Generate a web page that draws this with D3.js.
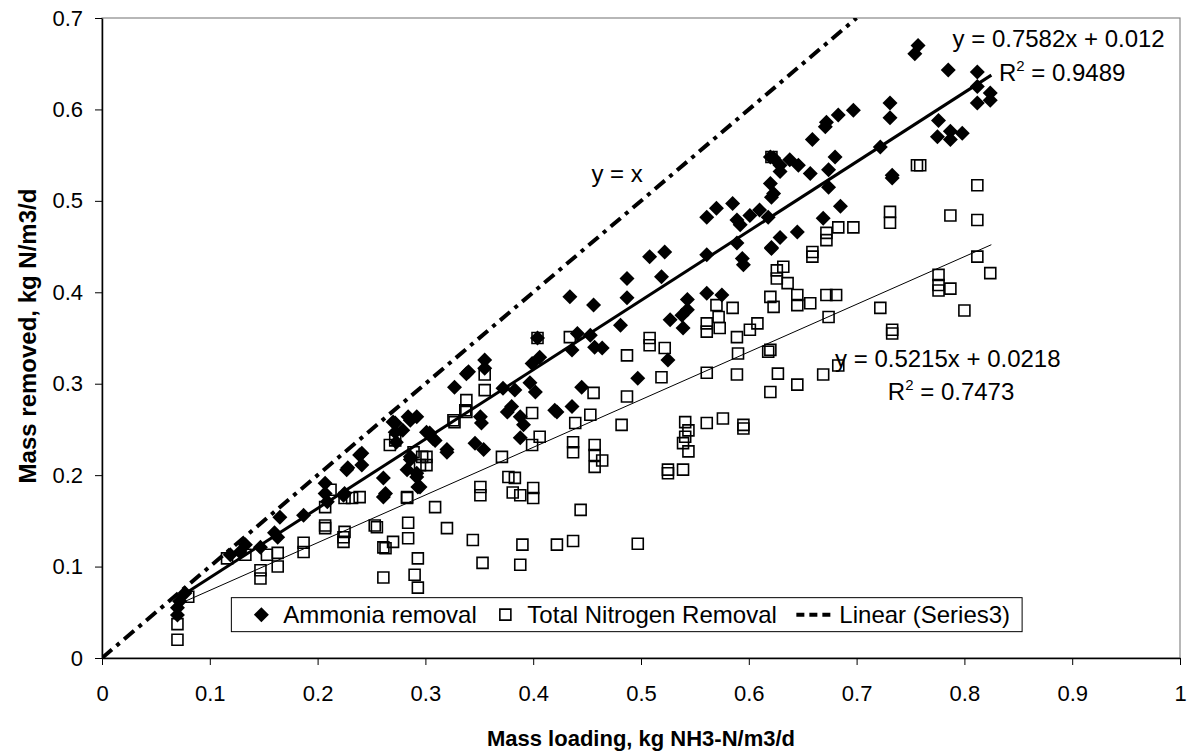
<!DOCTYPE html>
<html>
<head>
<meta charset="utf-8">
<script src="https://cdn.jsdelivr.net/npm/d3@7"></script>
<style>
  body { margin: 0; background: #fff; }
  text { font-family: "Liberation Sans", Arial, sans-serif; }
</style>
</head>
<body>
<div id="chart"><svg></svg></div>
<script>
// ammonia removal (filled diamonds), [loading, removed]
const ammonia = [
  [0.070,0.047],[0.070,0.055],[0.072,0.062],[0.077,0.071],
  [0.119,0.113],[0.128,0.116],[0.133,0.124],[0.147,0.121],[0.160,0.137],[0.163,0.132],[0.165,0.154],[0.187,0.156],
  [0.207,0.191],[0.209,0.171],[0.207,0.180],[0.224,0.178],[0.225,0.180],[0.227,0.206],[0.228,0.208],[0.239,0.222],[0.241,0.211],[0.241,0.224],
  [0.261,0.197],[0.261,0.176],[0.263,0.180],[0.270,0.258],[0.272,0.247],[0.272,0.257],[0.273,0.236],[0.279,0.249],[0.284,0.264],[0.286,0.260],
  [0.292,0.264],[0.286,0.220],[0.283,0.206],[0.286,0.217],[0.292,0.202],[0.292,0.198],[0.293,0.187],[0.295,0.187],
  [0.301,0.247],[0.304,0.246],[0.307,0.240],[0.309,0.238],[0.320,0.225],[0.320,0.228],[0.327,0.296],[0.338,0.311],[0.340,0.313],
  [0.351,0.264],[0.352,0.257],[0.346,0.235],[0.354,0.228],[0.355,0.326],[0.355,0.317],
  [0.372,0.295],[0.376,0.269],[0.380,0.275],[0.383,0.293],[0.388,0.264],[0.388,0.241],[0.391,0.255],[0.397,0.301],[0.399,0.322],[0.402,0.291],[0.406,0.329],[0.404,0.350],
  [0.420,0.271],[0.422,0.269],[0.434,0.395],[0.436,0.337],[0.436,0.275],[0.441,0.355],[0.445,0.296],[0.453,0.353],[0.456,0.386],[0.457,0.340],[0.464,0.339],
  [0.481,0.364],[0.487,0.415],[0.487,0.394],[0.497,0.306],[0.508,0.439],[0.519,0.417],[0.522,0.444],[0.525,0.326],[0.527,0.370],
  [0.538,0.375],[0.539,0.361],[0.543,0.392],[0.543,0.381],[0.561,0.399],[0.575,0.397],[0.561,0.441],[0.561,0.482],[0.570,0.492],[0.585,0.497],
  [0.589,0.479],[0.592,0.474],[0.589,0.454],[0.594,0.437],[0.595,0.430],
  [0.601,0.484],[0.610,0.490],[0.618,0.482],[0.620,0.519],[0.623,0.508],[0.621,0.449],[0.621,0.504],[0.620,0.548],
  [0.623,0.547],[0.629,0.539],[0.629,0.532],[0.638,0.545],[0.646,0.539],[0.657,0.530],[0.674,0.534],[0.680,0.548],[0.674,0.515],
  [0.645,0.466],[0.629,0.460],[0.621,0.448],[0.669,0.481],[0.685,0.494],
  [0.659,0.567],[0.671,0.581],[0.672,0.586],[0.683,0.594],[0.697,0.599],[0.722,0.559],[0.731,0.607],[0.731,0.591],[0.733,0.528],[0.733,0.525],
  [0.754,0.661],[0.757,0.670],[0.776,0.588],[0.775,0.570],[0.787,0.576],[0.787,0.567],[0.798,0.574],[0.785,0.643],
  [0.812,0.641],[0.812,0.625],[0.812,0.607],[0.824,0.618],[0.824,0.610]
];

// total nitrogen removal (open squares)
const totalN = [
  [0.070,0.020],[0.070,0.037],[0.080,0.067],
  [0.116,0.109],[0.133,0.113],[0.147,0.096],[0.147,0.087],[0.153,0.113],[0.163,0.115],[0.163,0.100],[0.187,0.126],[0.187,0.116],
  [0.207,0.165],[0.207,0.142],[0.212,0.184],[0.224,0.132],[0.224,0.127],[0.225,0.175],[0.232,0.175],[0.239,0.176],[0.225,0.138],[0.207,0.145],
  [0.253,0.145],[0.255,0.143],[0.261,0.121],[0.261,0.088],[0.263,0.120],[0.267,0.233],[0.270,0.127],[0.272,0.238],[0.283,0.176],[0.283,0.175],
  [0.284,0.148],[0.284,0.131],[0.289,0.225],[0.290,0.091],[0.293,0.109],[0.293,0.077],[0.295,0.211],[0.297,0.220],[0.301,0.220],[0.301,0.211],
  [0.309,0.165],[0.320,0.142],[0.326,0.260],[0.327,0.258],[0.337,0.271],[0.338,0.282],[0.338,0.269],[0.344,0.129],[0.351,0.187],[0.351,0.178],
  [0.353,0.104],[0.355,0.310],[0.355,0.293],
  [0.371,0.220],[0.377,0.198],[0.383,0.197],[0.381,0.181],[0.388,0.178],[0.390,0.124],[0.388,0.102],[0.399,0.268],[0.399,0.233],[0.400,0.186],
  [0.400,0.175],[0.406,0.242],[0.404,0.350],
  [0.422,0.124],[0.434,0.351],[0.437,0.236],[0.437,0.225],[0.437,0.128],[0.439,0.257],[0.444,0.162],[0.453,0.266],[0.456,0.290],[0.457,0.233],
  [0.457,0.222],[0.457,0.209],[0.464,0.216],
  [0.482,0.255],[0.487,0.331],[0.487,0.286],[0.497,0.125],[0.508,0.350],[0.508,0.342],[0.519,0.307],[0.522,0.339],[0.525,0.206],[0.525,0.202],
  [0.539,0.206],[0.539,0.235],[0.541,0.258],[0.541,0.242],[0.544,0.249],[0.544,0.226],
  [0.561,0.257],[0.561,0.312],[0.561,0.366],[0.561,0.357],[0.570,0.386],[0.572,0.373],[0.573,0.361],[0.576,0.262],[0.585,0.383],[0.589,0.351],
  [0.589,0.310],[0.590,0.333],[0.595,0.255],[0.595,0.251],[0.601,0.359],[0.608,0.366],
  [0.618,0.335],[0.620,0.395],[0.620,0.337],[0.620,0.291],[0.621,0.548],[0.623,0.384],[0.626,0.424],[0.626,0.415],[0.627,0.311],[0.632,0.428],
  [0.636,0.410],[0.645,0.397],[0.645,0.386],[0.645,0.299],[0.657,0.388],[0.659,0.444],[0.659,0.439],[0.669,0.310],[0.672,0.465],[0.672,0.457],
  [0.672,0.397],[0.674,0.373],[0.681,0.397],[0.683,0.471],[0.683,0.320],[0.697,0.471],
  [0.722,0.383],[0.731,0.488],[0.731,0.476],[0.733,0.359],[0.733,0.355],[0.756,0.539],[0.759,0.539],[0.776,0.419],[0.776,0.408],[0.776,0.402],
  [0.787,0.484],[0.787,0.404],[0.800,0.380],[0.812,0.517],[0.812,0.479],[0.812,0.439],[0.824,0.421]
];

// trend lines (from the Excel labels) and the y = x reference line
const ammoniaFit = { slope: 0.7582, intercept: 0.012, r2: "0.9489", from: 0.07, to: 0.825 };
const totalNFit = { slope: 0.5215, intercept: 0.0218, r2: "0.7473", from: 0.07, to: 0.825 };
const series3 = [[0, 0], [0.7, 0.7]];

const xTicks = [0, 0.1, 0.2, 0.3, 0.4, 0.5, 0.6, 0.7, 0.8, 0.9, 1];
const yTicks = [0, 0.1, 0.2, 0.3, 0.4, 0.5, 0.6, 0.7];
const legendLabels = ["Ammonia removal", "Total Nitrogen Removal", "Linear (Series3)"];

const W = 1188, H = 754;
const margin = { top: 18, right: 8, bottom: 96, left: 102 };
const width = W - margin.left - margin.right;
const height = H - margin.top - margin.bottom;

const svg = d3.select("#chart > svg").attr("width", W).attr("height", H);

const x = d3.scaleLinear().domain([0, 1]).range([0, width]);
const y = d3.scaleLinear().domain([0, 0.7]).range([height, 0]);

const g = svg.append("g").attr("transform", `translate(${margin.left},${margin.top})`);

svg.append("clipPath").attr("id", "plot-clip")
  .append("rect").attr("width", width).attr("height", height);

// plot border (top / right in grey)
g.append("rect")
  .attr("width", width).attr("height", height)
  .attr("fill", "none").attr("stroke", "#888").attr("stroke-width", 1.2);

const diamond = "M0,-7.5L7.5,0L0,7.5L-7.5,0Z";
const square = "M-5.5,-5.5H5.5V5.5H-5.5Z";

const plot = g.append("g").attr("clip-path", "url(#plot-clip)");

plot.selectAll(".amm")
  .data(ammonia)
  .join("path")
  .attr("class", "amm")
  .attr("d", diamond)
  .attr("fill", "#000")
  .attr("transform", d => `translate(${x(d[0])},${y(d[1])})`);

plot.selectAll(".tn")
  .data(totalN)
  .join("path")
  .attr("class", "tn")
  .attr("d", square)
  .attr("fill", "none")
  .attr("stroke", "#000")
  .attr("stroke-width", 1.6)
  .attr("transform", d => `translate(${x(d[0])},${y(d[1])})`);

const line = d3.line().x(d => x(d[0])).y(d => y(d[1]));
const fitPts = f => [[f.from, f.slope * f.from + f.intercept], [f.to, f.slope * f.to + f.intercept]];

plot.append("path").datum(series3)
  .attr("d", line).attr("fill", "none").attr("stroke", "#000")
  .attr("stroke-width", 4).attr("stroke-dasharray", "13,6,4,6");

plot.append("path").datum(fitPts(ammoniaFit))
  .attr("d", line).attr("fill", "none").attr("stroke", "#000").attr("stroke-width", 3);

plot.append("path").datum(fitPts(totalNFit))
  .attr("d", line).attr("fill", "none").attr("stroke", "#000").attr("stroke-width", 1);

// axes
const xAxis = g.append("g")
  .attr("transform", `translate(0,${height})`)
  .call(d3.axisBottom(x).tickValues(xTicks).tickFormat(d => String(d)).tickSize(7).tickSizeOuter(0).tickPadding(20));
const yAxis = g.append("g")
  .call(d3.axisLeft(y).tickValues(yTicks).tickFormat(d => String(d)).tickSize(7).tickSizeOuter(0).tickPadding(12));

[xAxis, yAxis].forEach(a => {
  a.select(".domain").attr("stroke", "#000").attr("stroke-width", 1.5);
  a.selectAll(".tick line").attr("stroke", "#000");
  a.selectAll("text").attr("font-size", 22).attr("fill", "#000")
    .style("font-family", "'Liberation Sans', Arial, sans-serif");
});

svg.append("text")
  .attr("x", margin.left + width / 2).attr("y", 746)
  .attr("text-anchor", "middle").attr("font-size", 22).attr("font-weight", "bold")
  .text("Mass loading, kg NH3-N/m3/d");

svg.append("text")
  .attr("transform", `translate(36,${margin.top + height / 2 - 2}) rotate(-90)`)
  .attr("text-anchor", "middle").attr("font-size", 24).attr("font-weight", "bold")
  .text("Mass removed, kg N/m3/d");

// equation labels
const eq = (px, py, txt) => g.append("text").attr("x", px).attr("y", py)
  .attr("font-size", 24).attr("fill", "#000").text(txt);
const r2 = (px, py, val) => {
  const t = g.append("text").attr("x", px).attr("y", py).attr("font-size", 24).attr("fill", "#000");
  t.append("tspan").text("R");
  t.append("tspan").attr("dy", -10).attr("font-size", 15).text("2");
  t.append("tspan").attr("dy", 10).text(" = " + val);
};
eq(x(0.789), y(0.668), `y = ${ammoniaFit.slope}x + ${ammoniaFit.intercept}`);
r2(x(0.832), y(0.631), ammoniaFit.r2);
eq(x(0.680), y(0.318), `y = ${totalNFit.slope}x + ${totalNFit.intercept}`);
r2(x(0.729), y(0.282), totalNFit.r2);
eq(x(0.454), y(0.521), "y = x");

// legend
const lg = g.append("g").attr("transform", `translate(${x(0.120)},${y(0.066)})`);
const box = lg.append("rect").attr("height", 34)
  .attr("fill", "#fff").attr("stroke", "#000").attr("stroke-width", 1);
const keyX = [30, 274, 583];
const textX = [52, 296, 608];
lg.append("path").attr("d", diamond).attr("transform", `translate(${keyX[0]},17)`);
lg.append("path").attr("d", square).attr("fill", "none").attr("stroke", "#000")
  .attr("stroke-width", 1.6).attr("transform", `translate(${keyX[1]},17)`);
lg.append("line").attr("x1", keyX[2] - 18).attr("x2", keyX[2] + 18)
  .attr("y1", 17).attr("y2", 17).attr("stroke", "#000").attr("stroke-width", 4)
  .attr("stroke-dasharray", "8,5");
let lastEnd = 0;
legendLabels.forEach((lab, i) => {
  const t = lg.append("text").attr("x", textX[i]).attr("y", 17).attr("dy", "0.35em")
    .attr("font-size", 24).text(lab);
  lastEnd = textX[i] + t.node().getComputedTextLength();
});
box.attr("width", lastEnd + 12);
</script>
</body>
</html>
